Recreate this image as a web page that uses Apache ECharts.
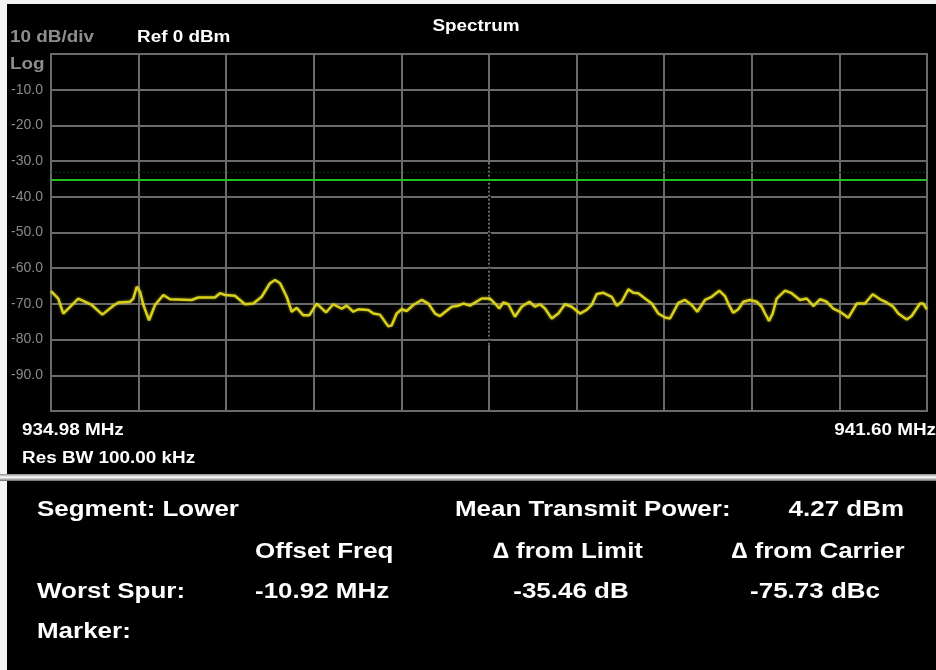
<!DOCTYPE html>
<html>
<head>
<meta charset="utf-8">
<title>Spectrum</title>
<script src="https://cdn.jsdelivr.net/npm/echarts@6/dist/echarts.min.js"></script>
<style>
  html, body { margin: 0; padding: 0; background: #ffffff; }
  #chart { width: 936px; height: 670px; }
</style>
</head>
<body>
<div id="chart"></div>
<script>
// Swept spectrum trace: frequency (MHz) and level (dBm)
const freqMHz = [
  934.980, 935.035, 935.073, 935.186, 935.288, 935.368, 935.451, 935.489, 935.577, 935.602,
  935.628, 935.653, 935.678, 935.721, 935.766, 935.829, 935.879, 936.043, 936.093, 936.219,
  936.257, 936.295, 936.370, 936.446, 936.509, 936.572, 936.635, 936.673, 936.711, 936.761,
  936.799, 936.837, 936.887, 936.932, 936.988, 937.058, 937.113, 937.177, 937.215, 937.265,
  937.302, 937.378, 937.416, 937.466, 937.529, 937.555, 937.592, 937.630, 937.668, 937.718,
  937.781, 937.831, 937.882, 937.920, 938.008, 938.058, 938.096, 938.146, 938.235, 938.298,
  938.335, 938.368, 938.398, 938.436, 938.486, 938.537, 938.595, 938.638, 938.675, 938.713,
  938.764, 938.814, 938.864, 938.915, 938.978, 939.028, 939.066, 939.104, 939.154, 939.217,
  939.255, 939.293, 939.343, 939.380, 939.418, 939.469, 939.520, 939.569, 939.620, 939.658,
  939.721, 939.771, 939.822, 939.864, 939.922, 939.973, 940.030, 940.073, 940.098, 940.136,
  940.174, 940.212, 940.262, 940.313, 940.351, 940.376, 940.406, 940.434, 940.464, 940.527,
  940.577, 940.640, 940.691, 940.741, 940.791, 940.842, 940.892, 940.943, 941.005, 941.069,
  941.131, 941.190, 941.245, 941.295, 941.345, 941.383, 941.447, 941.484, 941.547, 941.572,
  941.598
];
const levelDbm = [
  -66.4, -68.5, -72.7, -68.5, -70.3, -73.0, -70.5, -69.6, -69.4, -68.5,
  -65.2, -66.6, -70.3, -74.6, -70.3, -67.5, -68.7, -68.9, -68.2, -68.2,
  -67.0, -67.5, -67.7, -70.1, -69.9, -68.0, -64.2, -63.3, -64.2, -68.0,
  -72.2, -71.1, -73.2, -73.2, -69.9, -72.4, -70.1, -71.3, -70.5, -72.2,
  -71.5, -71.7, -72.7, -73.0, -76.3, -76.0, -72.7, -71.5, -72.0, -70.3,
  -68.9, -69.9, -72.7, -73.4, -70.8, -70.5, -69.9, -70.5, -68.5, -68.5,
  -69.9, -71.3, -69.6, -70.1, -73.6, -70.8, -69.4, -70.8, -70.1, -71.3,
  -74.1, -72.7, -70.1, -70.8, -72.7, -71.7, -70.3, -67.2, -66.9, -68.0,
  -70.5, -69.4, -65.9, -66.9, -67.0, -68.5, -69.9, -72.7, -73.8, -74.1,
  -69.7, -68.9, -70.3, -72.2, -68.9, -68.0, -66.3, -67.8, -69.9, -72.5,
  -71.5, -69.4, -68.9, -69.4, -70.8, -72.7, -74.8, -72.7, -68.5, -66.3,
  -67.0, -68.9, -68.5, -70.6, -68.7, -69.4, -71.3, -72.2, -73.9, -69.9,
  -69.9, -67.3, -68.7, -69.6, -70.8, -72.7, -74.4, -73.4, -69.9, -69.9,
  -71.5
];
// Spurious emission limit line (dBm) and the faint display line above it
const limitDbm = [-35.3];
const displayLineDbm = [-33.0];
// Span and vertical scale
const spanMHz = [934.98, 941.60];
const centerMHz = [938.29];
const centerLineRange = [-31, -81.5];   // dotted centre marker extent (dBm)
const refLevel = [0, -100, 10];          // top, bottom, dB/div
const spanLabels = ['934.98 MHz', '941.60 MHz'];
// Result table
const headerRow = ['Segment: Lower', 'Mean Transmit Power:', '4.27 dBm'];
const columnHeads = ['Offset Freq', '\u2206 from Limit', '\u2206 from Carrier'];
const spurRow = ['Worst Spur:', '-10.92 MHz', '-35.46 dB', '-75.73 dBc'];
const markerRow = ['Marker:'];

const FONT = '"Liberation Sans", Arial, sans-serif';
const SX = 1.18; // instrument font is drawn slightly wide
const GRID_COLOR = '#6a6a6a';

function txt(x, y, text, opts) {
  opts = opts || {};
  return {
    type: 'text', x: x, y: y, scaleX: SX, silent: true, z: 10,
    style: {
      text: text,
      fill: opts.fill || '#ffffff',
      font: (opts.weight || 'bold') + ' ' + (opts.size || 16) + 'px ' + FONT,
      textAlign: opts.align || 'left',
      textVerticalAlign: 'middle'
    }
  };
}

const chart = echarts.init(document.getElementById('chart'), null, { renderer: 'canvas' });

const graphics = [
  // thin light frame on the left and top edges
  { type: 'rect', shape: { x: 0, y: 0, width: 7, height: 670 }, style: { fill: '#f4f4f4' }, silent: true },
  { type: 'rect', shape: { x: 0, y: 0, width: 936, height: 4 }, style: { fill: '#f4f4f4' }, silent: true },
  // header
  txt(10, 38, '10 dB/div', { fill: '#8e8e8e' }),
  txt(137, 38, 'Ref ' + refLevel[0] + ' dBm'),
  txt(476, 27, 'Spectrum', { align: 'center' }),
  txt(10, 65, 'Log', { fill: '#8e8e8e' }),
  // span annotations
  txt(22, 431, spanLabels[0]),
  txt(936, 431, spanLabels[1], { align: 'right' }),
  txt(22, 459, 'Res BW 100.00 kHz'),
  // separator bar
  {
    type: 'rect', shape: { x: 0, y: 474, width: 936, height: 7 }, silent: true,
    style: {
      fill: new echarts.graphic.LinearGradient(0, 0, 0, 1, [
        { offset: 0, color: '#8a8a8a' },
        { offset: 0.45, color: '#ffffff' },
        { offset: 1, color: '#6a6a6a' }
      ])
    }
  },
  // result table
  txt(37, 510, headerRow[0], { size: 22 }),
  txt(455, 510, headerRow[1], { size: 22 }),
  txt(904, 510, headerRow[2], { size: 22, align: 'right' }),
  txt(255, 552, columnHeads[0], { size: 22 }),
  txt(568, 552, columnHeads[1], { size: 22, align: 'center' }),
  txt(818, 552, columnHeads[2], { size: 22, align: 'center' }),
  txt(37, 592, spurRow[0], { size: 22 }),
  txt(255, 592, spurRow[1], { size: 22 }),
  txt(571, 592, spurRow[2], { size: 22, align: 'center' }),
  txt(815, 592, spurRow[3], { size: 22, align: 'center' }),
  txt(37, 632, markerRow[0], { size: 22 })
];

chart.setOption({
  backgroundColor: '#000000',
  animation: false,
  grid: {
    left: 51, right: 9, top: 54, bottom: 259,
    show: true, borderColor: GRID_COLOR, borderWidth: 2, backgroundColor: 'transparent'
  },
  xAxis: [
    {
      type: 'value', min: spanMHz[0], max: spanMHz[1], show: false
    },
    {
      // ten horizontal divisions across the span
      type: 'value', min: 0, max: 10, interval: 1,
      axisLine: { show: false }, axisTick: { show: false }, axisLabel: { show: false },
      splitLine: { show: true, lineStyle: { color: GRID_COLOR, width: 2 } }
    }
  ],
  yAxis: {
    type: 'value', min: refLevel[1], max: refLevel[0], interval: refLevel[2],
    axisLine: { show: false }, axisTick: { show: false },
    splitLine: { show: true, lineStyle: { color: GRID_COLOR, width: 2 } },
    axisLabel: {
      color: '#8a8a8a', fontFamily: FONT, fontSize: 14, margin: 8,
      formatter: function (v) {
        return (v === refLevel[0] || v === refLevel[1]) ? '' : v.toFixed(1);
      }
    }
  },
  series: [
    {
      // centre-frequency marker: breaks the middle graticule into dots
      type: 'line',
      xAxisIndex: 0,
      data: [],
      z: 3,
      markLine: {
        silent: true, symbol: 'none', animation: false,
        label: { show: false },
        lineStyle: { color: '#000000', width: 3, type: [2, 2] },
        data: [[
          { coord: [centerMHz[0], centerLineRange[0]] },
          { coord: [centerMHz[0], centerLineRange[1]] }
        ]]
      }
    },
    {
      type: 'line',
      xAxisIndex: 0,
      data: [],
      z: 3,
      markLine: {
        silent: true, symbol: 'none', animation: false,
        label: { show: false },
        lineStyle: { color: '#0d3b0d', width: 1, type: [2, 2] },
        data: displayLineDbm.map(function (v) { return { yAxis: v }; })
      }
    },
    {
      type: 'line',
      xAxisIndex: 0,
      data: freqMHz.map(function (f, i) { return [f, levelDbm[i]]; }),
      showSymbol: false,
      lineStyle: {
        color: '#d8d01c', width: 2.5,
        shadowColor: 'rgba(230, 220, 40, 0.55)', shadowBlur: 3
      },
      z: 5,
      markLine: {
        silent: true, symbol: 'none', animation: false,
        label: { show: false },
        lineStyle: { color: '#20c020', width: 2, type: 'solid' },
        data: limitDbm.map(function (v) { return { yAxis: v }; })
      }
    }
  ],
  graphic: graphics
});
</script>
</body>
</html>
